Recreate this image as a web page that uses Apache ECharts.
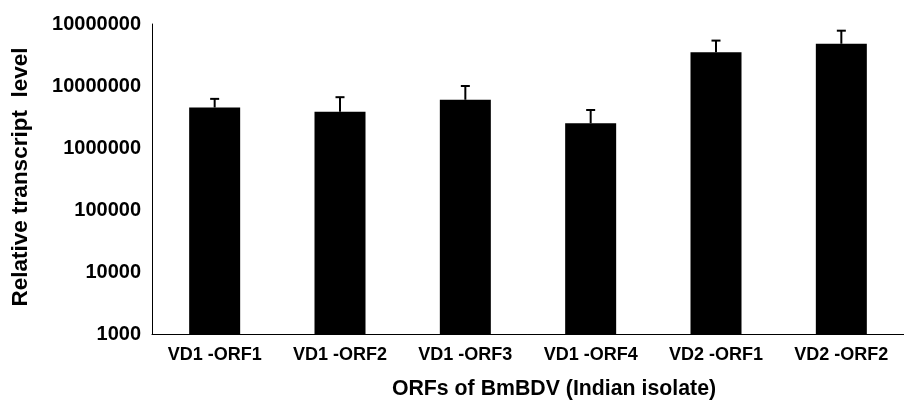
<!DOCTYPE html>
<html>
<head>
<meta charset="utf-8">
<script src="https://cdn.jsdelivr.net/npm/echarts@6/dist/echarts.min.js"></script>
<style>
html,body{margin:0;padding:0;background:#fff;}
#chart{width:904px;height:402px;}
</style>
</head>
<body>
<div id="chart"></div>
<script>
var categories = ['VD1 -ORF1', 'VD1 -ORF2', 'VD1 -ORF3', 'VD1 -ORF4', 'VD2 -ORF1', 'VD2 -ORF2'];
var values = [4500000, 3850000, 6000000, 2500000, 35000000, 48000000];
var errors = [1700000, 2750000, 4000000, 1600000, 19000000, 30000000];
var tickLabels = ['1000', '10000', '100000', '1000000', '10000000', '10000000'];
var yTitle = 'Relative transcript  level';
var xTitle = 'ORFs of BmBDV (Indian isolate)';

var FONT = '"Liberation Sans", Arial, sans-serif';
var chart = echarts.init(document.getElementById('chart'), null, {renderer: 'canvas'});

var errData = values.map(function (v, i) { return [i, v, v + errors[i]]; });

chart.setOption({
  animation: false,
  backgroundColor: '#fff',
  grid: {left: 152, right: -12, top: 24, bottom: 68, containLabel: false},
  xAxis: {
    type: 'category',
    data: categories,
    axisLine: {lineStyle: {color: '#000', width: 1}},
    axisTick: {show: false},
    axisLabel: {color: '#000', fontFamily: FONT, fontWeight: 'bold', fontSize: 18, margin: 12, interval: 0}
  },
  yAxis: {
    type: 'log',
    logBase: 10,
    min: 1000,
    max: 100000000,
    axisLine: {show: true, lineStyle: {color: '#000', width: 1}},
    axisTick: {show: false},
    splitLine: {show: false},
    minorTick: {show: false},
    axisLabel: {
      color: '#000', fontFamily: FONT, fontWeight: 'bold', fontSize: 20, margin: 11,
      formatter: function (v) {
        var k = Math.round(Math.log10(v)) - 3;
        return tickLabels[k] !== undefined ? tickLabels[k] : '';
      }
    }
  },
  graphic: [
    {
      type: 'text', x: 21, y: 177, rotation: Math.PI / 2,
      style: {text: yTitle, fill: '#000', font: 'bold 22.5px ' + FONT, textAlign: 'center', textVerticalAlign: 'middle'}
    },
    {
      type: 'text', x: 554, y: 389,
      style: {text: xTitle, fill: '#000', font: 'bold 21.3px ' + FONT, textAlign: 'center', textVerticalAlign: 'middle'}
    }
  ],
  series: [
    {
      type: 'bar',
      data: values,
      barWidth: 51,
      clip: true,
      itemStyle: {color: '#000'}
    },
    {
      type: 'custom',
      data: errData,
      clip: true,
      renderItem: function (params, api) {
        var i = api.value(0);
        var base = api.coord([i, api.value(1)]);
        var top = api.coord([i, api.value(2)]);
        var hw = 4.5;
        return {
          type: 'group',
          children: [
            {type: 'line', shape: {x1: base[0], y1: base[1], x2: top[0], y2: top[1]}, style: {stroke: '#000', lineWidth: 2}},
            {type: 'line', shape: {x1: top[0] - hw, y1: top[1], x2: top[0] + hw, y2: top[1]}, style: {stroke: '#000', lineWidth: 2}}
          ]
        };
      },
      z: 3
    }
  ]
});
</script>
</body>
</html>
